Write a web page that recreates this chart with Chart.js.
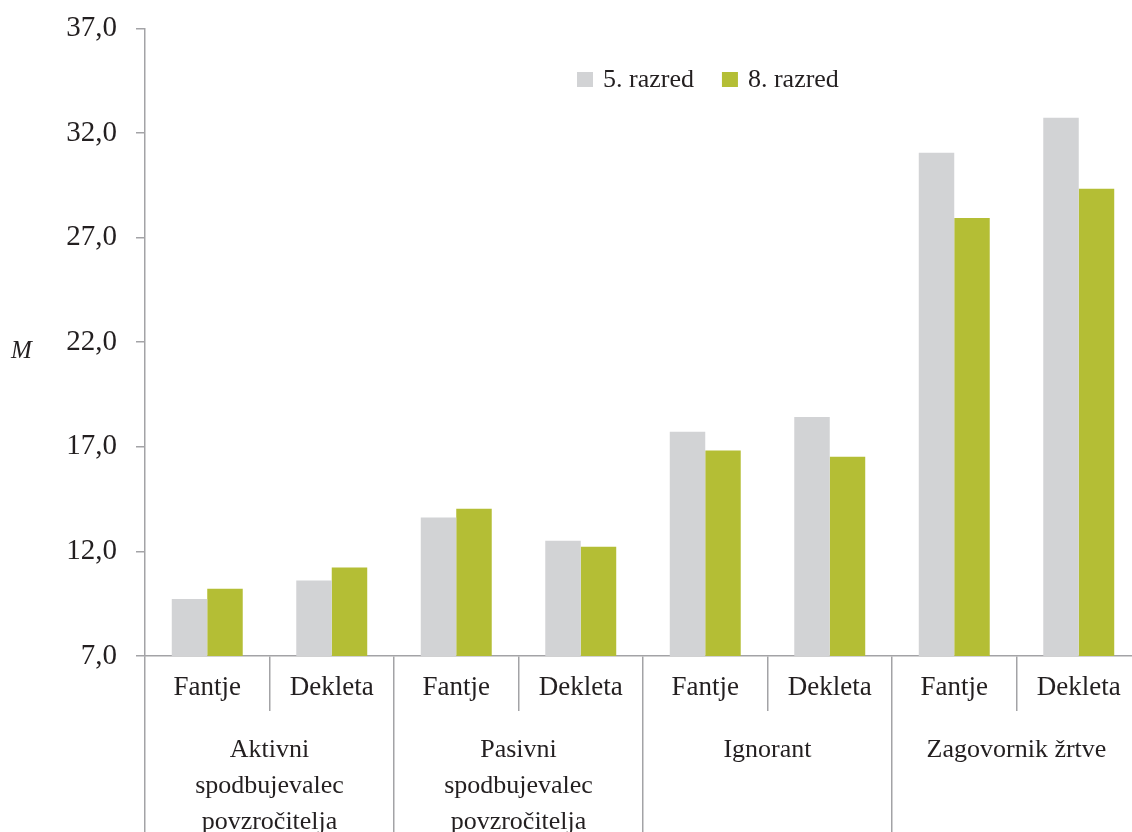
<!DOCTYPE html>
<html><head><meta charset="utf-8">
<script src="https://cdn.jsdelivr.net/npm/chart.js@4.4.1/dist/chart.umd.min.js"></script>
<style>
html,body{margin:0;padding:0;overflow:hidden;background:#fff;width:1132px;height:832px;}
#wrap{position:absolute;left:0;top:-8px;width:1145px;height:840px;}
canvas{display:block;}
</style></head><body>
<div id="wrap"><canvas id="c" width="1145" height="840" style="width:1145px;height:840px"></canvas></div>
<script>
// ---- data ----
const categories = ['Fantje','Dekleta','Fantje','Dekleta','Fantje','Dekleta','Fantje','Dekleta'];
const groups = [
  ['Aktivni','spodbujevalec','povzročitelja'],
  ['Pasivni','spodbujevalec','povzročitelja'],
  ['Ignorant'],
  ['Zagovornik žrtve']
];
const seriesNames = ['5. razred','8. razred'];
const series5 = [9.72, 10.61, 13.62, 12.51, 17.72, 18.42, 31.05, 32.73];
const series8 = [10.22, 11.23, 14.04, 12.22, 16.82, 16.52, 27.94, 29.33];
const yMin = 7, yMax = 37, yStep = 5;
const yTitle = 'M';

// ---- styles ----
const colors = ['#d2d3d5', '#b4be35'];
const ink = '#231f20';
const lineCol = '#a3a3a6';
const serif = '"Liberation Serif", "Times New Roman", serif';
Chart.defaults.font.family = serif;
Chart.defaults.color = ink;

const extras = {
  id: 'extras',
  afterDraw(chart) {
    const ctx = chart.ctx;
    ctx.save();
    ctx.font = '26px ' + serif;
    ctx.textBaseline = 'alphabetic';
    let x = 577;
    chart.data.datasets.forEach(ds => {
      ctx.fillStyle = ds.backgroundColor;
      ctx.fillRect(x, 80, 16, 15);
      ctx.fillStyle = ink;
      ctx.fillText(ds.label, x + 26, 94.5);
      x += 26 + ctx.measureText(ds.label).width + 28;
    });
    ctx.font = 'italic 25px ' + serif;
    ctx.fillStyle = ink;
    ctx.fillText(yTitle, 11, 366);
    ctx.restore();
  }
};

new Chart(document.getElementById('c'), {
  type: 'bar',
  data: {
    labels: categories,
    datasets: [
      { label: seriesNames[0], data: series5, backgroundColor: colors[0], categoryPercentage: 0.57, barPercentage: 1.0 },
      { label: seriesNames[1], data: series8, backgroundColor: colors[1], categoryPercentage: 0.57, barPercentage: 1.0 }
    ]
  },
  options: {
    responsive: false,
    animation: false,
    devicePixelRatio: 1,
    layout: { padding: { top: 21, right: 4, left: 0, bottom: 0 } },
    plugins: { legend: { display: false }, tooltip: { enabled: false } },
    scales: {
      y: {
        min: yMin, max: yMax,
        afterFit: s => { s.width = 145; },
        ticks: {
          stepSize: yStep,
          padding: 19,
          color: ink,
          font: { size: 29 },
          callback: v => v.toFixed(1).replace('.', ',')
        },
        grid: { display: true, drawOnChartArea: false, tickLength: 9, color: lineCol, lineWidth: 1.5 },
        border: { display: true, color: lineCol, width: 1.5 }
      },
      x: {
        weight: 0,
        afterFit: s => { s.height = 55; },
        ticks: { autoSkip: false, maxRotation: 0, padding: -39, color: ink, font: { size: 27 } },
        grid: { display: true, offset: true, drawOnChartArea: false, tickLength: 55, color: lineCol, lineWidth: 1.5 },
        border: { display: true, color: lineCol, width: 1.5 }
      },
      x2: {
        type: 'category',
        position: 'bottom',
        weight: 1,
        labels: groups,
        afterFit: s => { s.height = 121; },
        ticks: { autoSkip: false, maxRotation: 0, padding: -100, color: ink, font: { size: 26, lineHeight: 36/26 } },
        grid: { display: true, offset: true, drawOnChartArea: false, tickLength: 121,
          color: lineCol, lineWidth: 1.5 },
        border: { display: false }
      }
    }
  },
  plugins: [extras]
});
</script>
</body></html>
